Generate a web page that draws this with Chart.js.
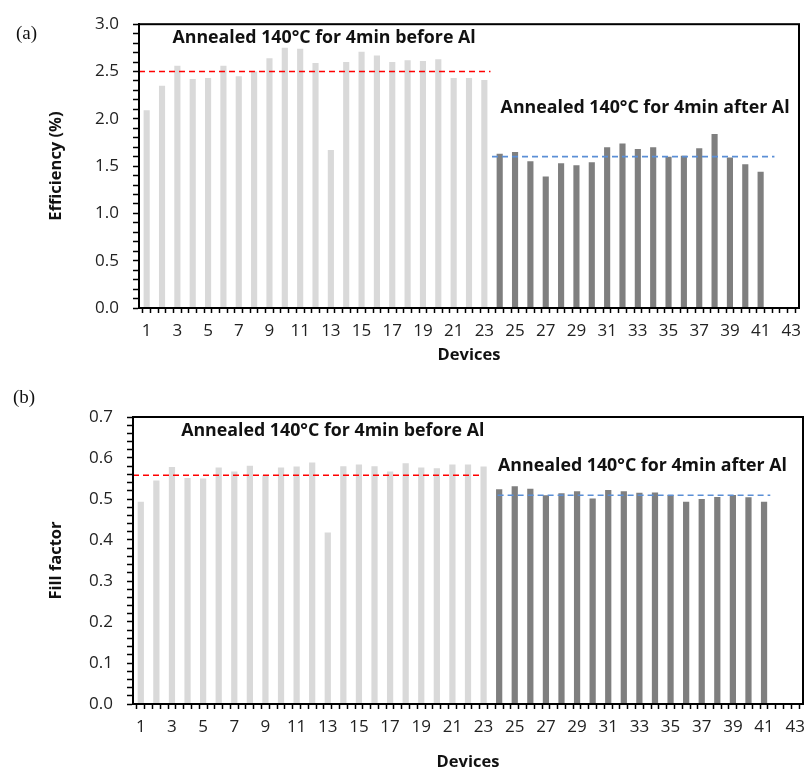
<!DOCTYPE html>
<html><head><meta charset="utf-8">
<script src="https://cdn.jsdelivr.net/npm/chart.js@4/dist/chart.umd.min.js"></script>
<style>
body{margin:0;background:#fff;width:811px;height:772px;position:relative;overflow:hidden;}
canvas{position:absolute;left:0;}
#c1{top:0px}
#c2{top:380px}
.lab{position:absolute;font-family:"Liberation Serif","DejaVu Serif",serif;font-size:19px;color:#111;}
</style></head><body>
<canvas id="c1" width="811" height="380"></canvas>
<canvas id="c2" width="811" height="392"></canvas>
<div class="lab" style="left:16px;top:22px">(a)</div>
<div class="lab" style="left:13px;top:386px">(b)</div>
<script>
// ---- data ----
const deviceCount = 43;
const effBefore = [2.09,2.35,2.56,2.42,2.43,2.56,2.45,2.50,2.64,2.75,2.74,2.59,1.67,2.60,2.71,2.67,2.60,2.62,2.61,2.63,2.43,2.43,2.41];
const effAfter  = [1.63,1.65,1.55,1.39,1.53,1.51,1.54,1.70,1.74,1.68,1.70,1.60,1.61,1.69,1.84,1.59,1.52,1.44];
const ffBefore  = [0.493,0.545,0.578,0.551,0.550,0.577,0.567,0.581,0.558,0.577,0.579,0.589,0.418,0.580,0.584,0.580,0.567,0.587,0.577,0.575,0.584,0.584,0.579];
const ffAfter   = [0.524,0.531,0.525,0.509,0.514,0.519,0.501,0.522,0.519,0.515,0.516,0.510,0.493,0.500,0.505,0.510,0.504,0.493];
const effMeans  = [2.50, 1.60];   // before Al, after Al
const ffMeans   = [0.558, 0.509];
const noteBefore = 'Annealed 140°C for 4min before Al';
const noteAfter  = 'Annealed 140°C for 4min after Al';

const LIGHT = '#d9d9d9', DARK = '#7f7f7f';
const FONT = '"Open Sans", "Noto Sans", sans-serif';

function barData(before, after){
  const vals = before.concat(after);
  return vals.map((v,i)=>({x:i+1, y:v}));
}
function barColors(before, after){
  return before.map(()=>LIGHT).concat(after.map(()=>DARK));
}

const framePlugin = {
  id:'frame',
  afterDraw(chart){
    const {ctx, chartArea:a} = chart;
    ctx.save();
    ctx.strokeStyle = '#000'; ctx.lineWidth = 2;
    ctx.strokeRect(a.left, a.top, a.right-a.left, a.bottom-a.top);
    const notes = chart.config._notes || [];
    ctx.fillStyle = '#111';
    ctx.font = 'bold 17.8px ' + FONT;
    ctx.textBaseline = 'middle'; ctx.textAlign = 'left';
    notes.forEach(n=>{
      ctx.fillText(n.text, chart.scales.x.getPixelForValue(n.x), chart.scales.y.getPixelForValue(n.y));
    });
    ctx.restore();
  }
};

function makeChart(id, o){
  const cfg = {
    type:'bar',
    data:{datasets:[
      {type:'bar', data:barData(o.before,o.after), backgroundColor:barColors(o.before,o.after),
       barPercentage:0.8, categoryPercentage:1.0, order:2},
      {type:'line', data:o.redLine, borderColor:'#ff0000', borderWidth:1.6, borderDash:[6,4],
       pointRadius:0, fill:false, order:1},
      {type:'line', data:o.blueLine, borderColor:'#5b8fd6', borderWidth:1.6, borderDash:[6,4],
       pointRadius:0, fill:false, order:1}
    ]},
    options:{
      responsive:false, animation:false, devicePixelRatio:1,
      layout:{padding:o.padding},
      plugins:{legend:{display:false}, tooltip:{enabled:false}},
      scales:{
        x:{type:'linear', min:0.5, max:deviceCount+0.5, offset:false,
           afterFit:s=>{s.height=o.xHeight;},
           border:{display:true,color:'#000',width:2},
           grid:{drawOnChartArea:false, drawTicks:true, tickLength:5, color:'#000', tickWidth:1.5},
           ticks:{stepSize:0.5, autoSkip:false, maxRotation:0, padding:8, color:'#222',
                  font:{family:FONT,size:17},
                  callback:v=>(Number.isInteger(v)&&v%2===1)?String(v):''},
           title:{display:true, text:'Devices', color:'#111', font:{family:FONT,size:16.5,weight:'bold'},
                  padding:{top:0,bottom:o.xTitlePad}}},
        y:{type:'linear', min:0, max:o.yMax,
           afterFit:s=>{s.width=o.yWidth;},
           border:{display:true,color:'#000',width:2},
           grid:{drawOnChartArea:false, drawTicks:true, tickLength:6, color:'#000', tickWidth:1.5},
           ticks:{stepSize:o.yStep, autoSkip:false, padding:14, color:'#222',
                  font:{family:FONT,size:17}, callback:o.yLabel},
           title:{display:true, text:o.yTitle, color:'#111', font:{family:FONT,size:16.5,weight:'bold'},
                  padding:{top:o.yTitlePad,bottom:0}}}
      }
    },
    plugins:[framePlugin]
  };
  const ch = new Chart(document.getElementById(id), cfg);
  ch.config._notes = o.notes;
  ch.draw();
  return ch;
}

makeChart('c1', {
  before:effBefore, after:effAfter, yMax:3.0, yStep:0.1,
  yLabel:v=>{const k=Math.round(v*10); return k%5===0?(k/10).toFixed(1):'';},
  yTitle:'Efficiency (%)',
  redLine:[{x:0.5,y:effMeans[0]},{x:23.4,y:effMeans[0]}],
  blueLine:[{x:23.5,y:effMeans[1]},{x:41.9,y:effMeans[1]}],
  padding:{top:24,right:12,left:0,bottom:0}, xHeight:72, yWidth:139,
  xTitlePad:15, yTitlePad:46,
  notes:[{text:noteBefore,x:2.68,y:2.85},{text:noteAfter,x:24.06,y:2.11}]
});
makeChart('c2', {
  before:ffBefore, after:ffAfter, yMax:0.7, yStep:0.02,
  yLabel:v=>{const k=Math.round(v*100); return k%10===0?(k/100).toFixed(1):'';},
  yTitle:'Fill factor',
  redLine:[{x:0.5,y:ffMeans[0]},{x:22.9,y:ffMeans[0]}],
  blueLine:[{x:23.9,y:ffMeans[1]},{x:41.4,y:ffMeans[1]}],
  padding:{top:37,right:3,left:0,bottom:0}, xHeight:68, yWidth:133,
  xTitlePad:0, yTitlePad:46,
  notes:[{text:noteBefore,x:3.59,y:0.665},{text:noteAfter,x:23.93,y:0.581}]
});
</script>
</body></html>
